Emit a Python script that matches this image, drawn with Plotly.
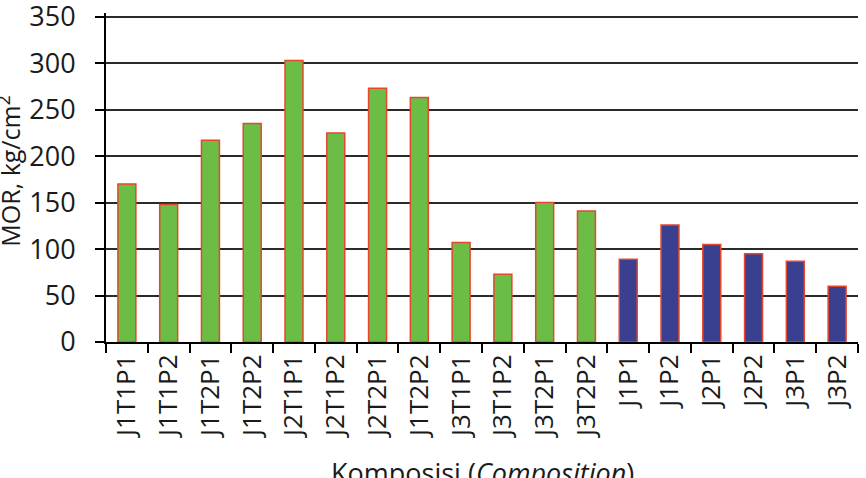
import plotly.graph_objects as go

labels = ["J1T1P1", "J1T1P2", "J1T2P1", "J1T2P2", "J2T1P1", "J2T1P2", "J2T2P1", "J1T2P2",
          "J3T1P1", "J3T1P2", "J3T2P1", "J3T2P2",
          "J1P1", "J1P2", "J2P1", "J2P2", "J3P1", "J3P2"]
mor = [170, 148, 217, 235, 303, 225, 273, 263, 107, 73, 150, 141,
       89, 126, 105, 95, 87, 60]
group = ["T"] * 12 + ["P"] * 6
y_ticks = [0, 50, 100, 150, 200, 250, 300, 350]

color_map = {"T": "#6cbd45", "P": "#3b3f8f"}
ids = [str(i) for i in range(len(labels))]

fig = go.Figure(go.Bar(
    x=ids, y=mor,
    marker=dict(color=[color_map[g] for g in group],
                line=dict(color="#e5472d", width=1.5)),
    showlegend=False,
))

font_family = "Open Sans"
fig.update_layout(
    width=866, height=478,
    margin=dict(l=106, r=8, t=13, b=136),
    paper_bgcolor="white", plot_bgcolor="white",
    bargap=0.57,
    font=dict(family=font_family, size=26, color="#1a1a1a"),
)
fig.update_xaxes(
    type="category",
    tickmode="array", tickvals=ids, ticktext=labels,
    tickangle=-90, tickson="boundaries",
    ticks="outside", ticklen=9, tickwidth=2, tickcolor="black",
    showline=True, linecolor="black", linewidth=2,
    showgrid=False, automargin=False,
    tickfont=dict(size=26),
)
fig.update_yaxes(
    range=[0, 354], tickmode="array", tickvals=y_ticks,
    ticktext=[str(v) for v in y_ticks],
    ticks="outside", ticklen=9, tickwidth=2, tickcolor="black",
    showline=True, linecolor="black", linewidth=2,
    showgrid=True, gridcolor="#2a2a2a", gridwidth=2,
    zeroline=False, automargin=False,
    tickfont=dict(size=27),
    ticklabelstandoff=14,
    ticklabeloverflow="allow",
)
fig.add_annotation(
    text="MOR, kg/cm<sup>2</sup>", textangle=-90,
    xref="paper", yref="paper", x=-0.128, y=0.52,
    xanchor="center", yanchor="middle", showarrow=False,
    font=dict(size=25, color="#1a1a1a"),
)
fig.add_annotation(
    text="Komposisi (<i>Composition</i>)",
    xref="paper", yref="paper", x=0.5, y=-0.333,
    xanchor="center", yanchor="top", showarrow=False,
    font=dict(size=27, color="#1a1a1a"),
)

fig.write_html("out.html")
